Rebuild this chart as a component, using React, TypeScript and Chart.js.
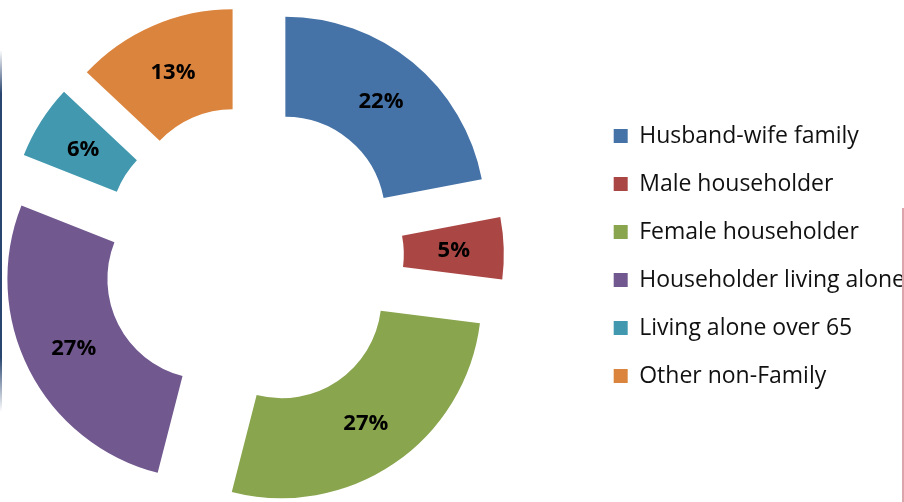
import React, { useEffect, useRef } from "react";
import { Chart, registerables } from "chart.js";

Chart.register(...registerables);

const categories = [
  "Husband-wife family",
  "Male householder",
  "Female householder",
  "Householder living alone",
  "Living alone over 65",
  "Other non-Family",
];
const shares = [22, 5, 27, 27, 6, 13];
const sliceColors = ["#4572A7", "#AA4643", "#89A54E", "#71588F", "#4198AF", "#DB843D"];

const EXPLODE = 51;

const explodePlugin = {
  id: "explodeSlices",
  beforeDatasetsDraw(chart: any) {
    const meta = chart.getDatasetMeta(0);
    const ca = chart.chartArea;
    const cx = (ca.left + ca.right) / 2;
    const cy = (ca.top + ca.bottom) / 2;
    meta.data.forEach((el: any) => {
      const mid = (el.startAngle + el.endAngle) / 2;
      el.x = cx + EXPLODE * Math.cos(mid);
      el.y = cy + EXPLODE * Math.sin(mid);
    });
  },
};

const labelPlugin = {
  id: "sliceLabels",
  afterDatasetsDraw(chart: any) {
    const ctx = chart.ctx;
    const meta = chart.getDatasetMeta(0);
    ctx.save();
    ctx.font = "bold 22px 'Open Sans'";
    ctx.fillStyle = "#000000";
    ctx.textAlign = "center";
    ctx.textBaseline = "middle";
    meta.data.forEach((el: any, i: number) => {
      const p = el.getCenterPoint();
      ctx.fillText(shares[i] + "%", p.x, p.y + 1);
    });
    ctx.restore();
  },
};

export default function App() {
  const ref = useRef<HTMLCanvasElement | null>(null);

  useEffect(() => {
    document.body.style.margin = "0";
    if (!ref.current) return;
    const chart = new Chart(ref.current, {
      type: "doughnut",
      data: {
        labels: categories,
        datasets: [
          {
            data: shares,
            backgroundColor: sliceColors,
            borderWidth: 0,
          },
        ],
      },
      options: {
        responsive: false,
        animation: false,
        devicePixelRatio: 1,
        events: [],
        radius: 200,
        cutout: "50%",
        layout: { padding: { top: 10, bottom: 0, left: 0, right: 0 } },
        plugins: {
          legend: {
            position: "right",
            align: "center",
            labels: {
              boxWidth: 14,
              boxHeight: 14,
              padding: 25,
              color: "#111111",
              font: { family: "'Open Sans'", size: 23 },
            },
          },
          tooltip: { enabled: false },
        },
      } as any,
      plugins: [explodePlugin, labelPlugin],
    });
    return () => chart.destroy();
  }, []);

  return (
    <div
      style={{
        position: "fixed",
        left: 0,
        top: 0,
        width: 904,
        height: 502,
        overflow: "hidden",
        background: "#ffffff",
      }}
    >
      <canvas
        ref={ref}
        width={998}
        height={502}
        style={{ position: "absolute", left: -83, top: 0, width: 998, height: 502 }}
      />
      <div
        style={{
          position: "absolute",
          left: 0,
          top: 50,
          width: 2,
          height: 362,
          background:
            "linear-gradient(to bottom, rgba(31,58,96,0), #2a4670 12%, #2a4670 85%, rgba(31,58,96,0))",
        }}
      />
      <div
        style={{
          position: "absolute",
          left: 902,
          top: 208,
          width: 2,
          height: 294,
          background: "#dca4ab",
        }}
      />
    </div>
  );
}
